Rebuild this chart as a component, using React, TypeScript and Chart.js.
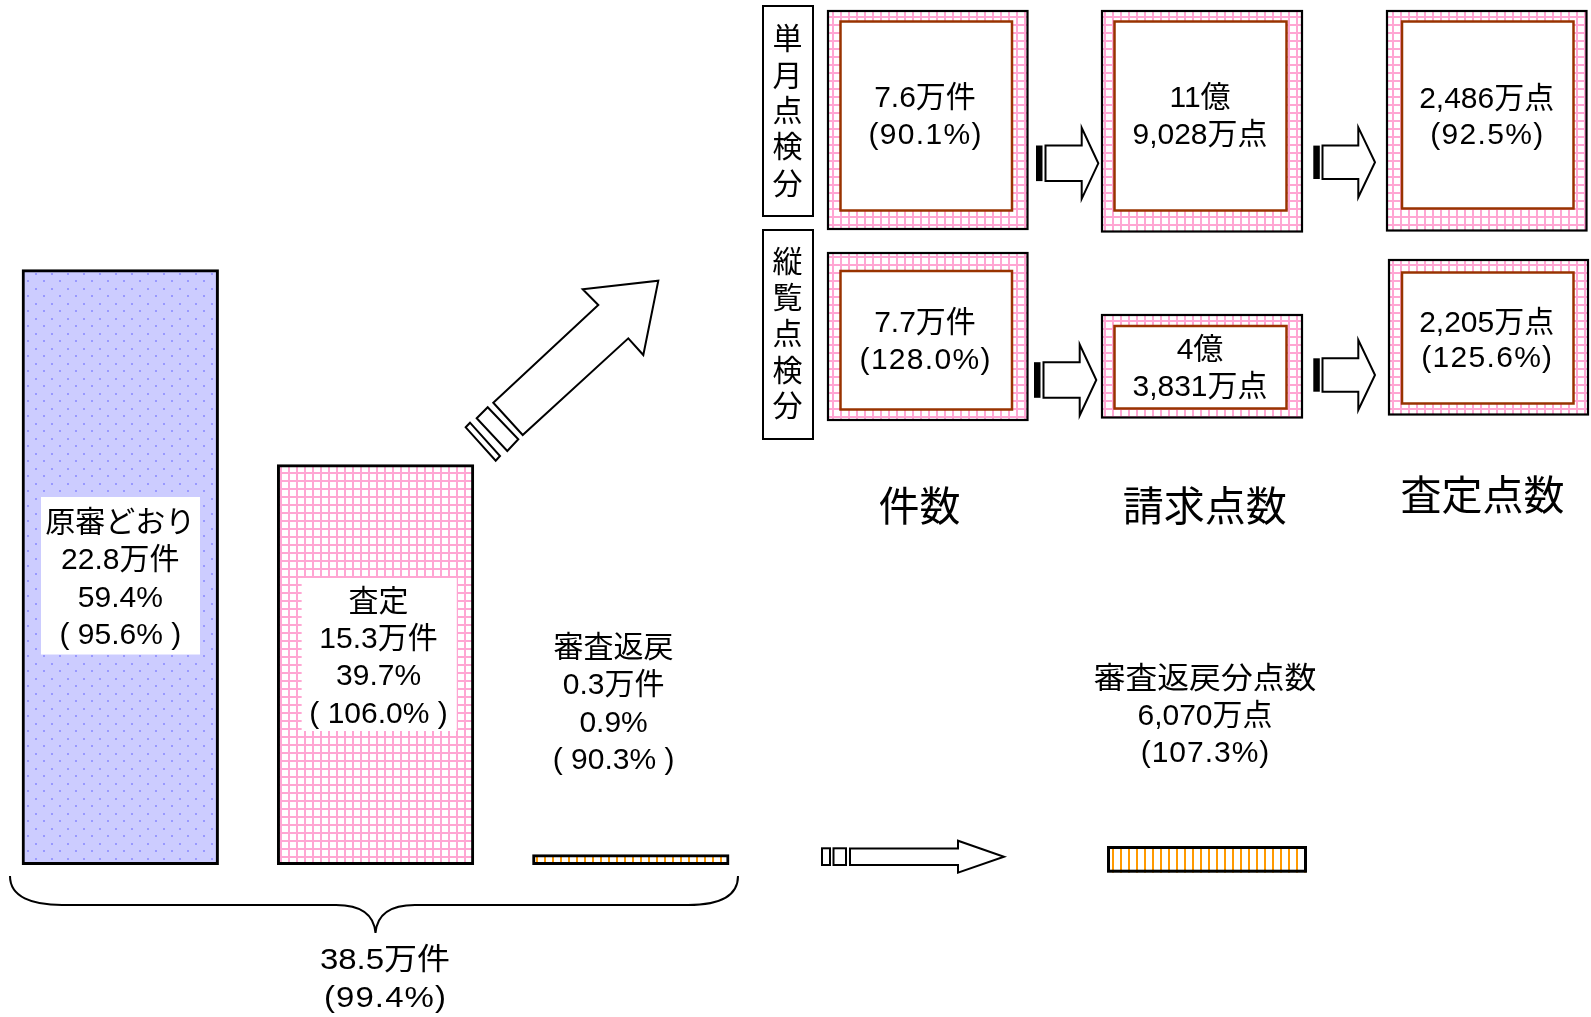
import React, { useEffect, useRef } from 'react';
import { Chart, registerables } from 'chart.js';

Chart.register(...registerables);

// ---- data ----
const categories = ['原審どおり', '査定', '審査返戻'];
const caseCounts = [22.8, 15.3, 0.3]; // 万件
const shareLabels = ['59.4%', '39.7%', '0.9%'];
const yoyLabels = ['95.6%', '106.0%', '90.3%'];
const totalLabels = ['38.5万件', '(99.4%)'];
const rowLabels = ['単月点検分', '縦覧点検分'];
const columnLabels = ['件数', '請求点数', '査定点数'];
const countCells = [['7.6万件', '(90.1%)'], ['7.7万件', '(128.0%)']];
const claimCells = [['11億', '9,028万点'], ['4億', '3,831万点']];
const assessedCells = [['2,486万点', '(92.5%)'], ['2,205万点', '(125.6%)']];
const returnedPointLabels = ['審査返戻分点数', '6,070万点', '(107.3%)'];

const FONT = '"Liberation Sans", "Noto Sans CJK JP", sans-serif';

function drawText(ctx: CanvasRenderingContext2D, s: string, x: number, y: number, size = 30, sx = 1, spacing = 0) {
  ctx.save();
  ctx.font = `${size}px ${FONT}`;
  ctx.fillStyle = '#000';
  ctx.textAlign = 'center';
  ctx.textBaseline = 'middle';
  if (spacing) (ctx as any).letterSpacing = `${spacing}px`;
  ctx.translate(x + spacing / 2, y + size * 0.08);
  ctx.scale(sx, 1);
  ctx.fillText(s, 0, 0);
  ctx.restore();
}

function blockArrow(ctx: CanvasRenderingContext2D, tailX: number, shaftX: number, headX: number, tipX: number, cy: number, sh: number, hh: number) {
  ctx.save();
  ctx.fillStyle = '#000';
  ctx.fillRect(tailX, cy - sh, 6.5, 2 * sh);
  ctx.beginPath();
  ctx.moveTo(shaftX, cy - sh);
  ctx.lineTo(headX, cy - sh);
  ctx.lineTo(headX, cy - hh);
  ctx.lineTo(tipX, cy);
  ctx.lineTo(headX, cy + hh);
  ctx.lineTo(headX, cy + sh);
  ctx.lineTo(shaftX, cy + sh);
  ctx.closePath();
  ctx.fillStyle = '#fff';
  ctx.fill();
  ctx.lineWidth = 2;
  ctx.strokeStyle = '#000';
  ctx.lineJoin = 'miter';
  ctx.stroke();
  ctx.restore();
}

function poly(ctx: CanvasRenderingContext2D, pts: number[][]) {
  ctx.beginPath();
  pts.forEach((p, i) => (i ? ctx.lineTo(p[0], p[1]) : ctx.moveTo(p[0], p[1])));
  ctx.closePath();
  ctx.fillStyle = '#fff';
  ctx.fill();
  ctx.lineWidth = 2;
  ctx.strokeStyle = '#000';
  ctx.stroke();
}

export default function App() {
  const ref = useRef<HTMLCanvasElement>(null);

  useEffect(() => {
    const canvas = ref.current!;
    const mainCtx = canvas.getContext('2d')!;
    const tile = (w: number, h: number, draw: (g: CanvasRenderingContext2D) => void) => {
      const c = document.createElement('canvas');
      c.width = w;
      c.height = h;
      const g = c.getContext('2d')!;
      draw(g);
      return mainCtx.createPattern(c, 'repeat')!;
    };
    const dots = tile(16, 15, (g) => {
      g.fillStyle = '#CCCCFF';
      g.fillRect(0, 0, 16, 15);
      g.fillStyle = '#9999FF';
      g.fillRect(3, 3, 2, 2);
      g.fillRect(11, 10, 2, 2);
    });
    const grid = tile(8, 8, (g) => {
      g.fillStyle = '#fff';
      g.fillRect(0, 0, 8, 8);
      g.fillStyle = '#FFA6D3';
      g.fillRect(0, 0, 8, 2);
      g.fillRect(0, 0, 2, 8);
    });
    const stripes = tile(8, 8, (g) => {
      g.fillStyle = '#fff';
      g.fillRect(0, 0, 8, 8);
      g.fillStyle = '#FF9900';
      g.fillRect(0, 0, 2, 8);
    });

    const barLabelLayout = [
      { dx: 0, box: [-79.3, 497, 79.7, 654.5], y0: 521.5 },
      { dx: 3, box: [-73.9, 578, 81.2, 731], y0: 600 },
      { dx: -17.2, box: null as number[] | null, y0: 646.5 },
    ];

    const cells = [
      { o: [828, 11, 1027.5, 229], i: [840.5, 21.5, 1012, 210.5], x: 925, ys: [96.7, 133.3], t: countCells[0] },
      { o: [1102, 11, 1302, 231.5], i: [1114.5, 21.5, 1286.5, 210.5], x: 1200, ys: [96.7, 133.3], t: claimCells[0] },
      { o: [1387, 11, 1586.5, 230.5], i: [1402, 21.5, 1573.5, 208.5], x: 1486.7, ys: [97, 133.3], t: assessedCells[0] },
      { o: [828, 253, 1027.5, 420], i: [840.5, 271, 1012, 409.5], x: 925, ys: [321.7, 358.3], t: countCells[1] },
      { o: [1102, 315, 1302, 417.5], i: [1114.5, 326, 1286.5, 408.5], x: 1200, ys: [348.3, 385], t: claimCells[1] },
      { o: [1389, 260, 1588, 414.5], i: [1402, 272.5, 1573.5, 403.5], x: 1486.7, ys: [321.7, 356.7], t: assessedCells[1] },
    ];

    const overlay = {
      id: 'overlay',
      afterDraw(chart: any) {
        const ctx: CanvasRenderingContext2D = chart.ctx;
        const bars = chart.getDatasetMeta(0).data;

        // labels on the bars
        bars.forEach((bar: any, i: number) => {
          const L = barLabelLayout[i];
          if (L.box) {
            ctx.fillStyle = '#fff';
            ctx.fillRect(bar.x + L.box[0], L.box[1], L.box[2] - L.box[0], L.box[3] - L.box[1]);
          }
          const lines = [categories[i], `${caseCounts[i]}万件`, shareLabels[i], `( ${yoyLabels[i]} )`];
          lines.forEach((s, k) => drawText(ctx, s, bar.x + L.dx, L.y0 + k * 37.3, 30));
        });

        // brace under bars
        ctx.save();
        ctx.beginPath();
        ctx.moveTo(10, 876);
        ctx.bezierCurveTo(10, 897, 32, 905, 62, 905);
        ctx.lineTo(336, 905);
        ctx.bezierCurveTo(362, 905, 374, 915, 375.5, 933);
        ctx.bezierCurveTo(377, 915, 389, 905, 415, 905);
        ctx.lineTo(688, 905);
        ctx.bezierCurveTo(718, 905, 738, 897, 738, 876);
        ctx.lineWidth = 2;
        ctx.strokeStyle = '#000';
        ctx.stroke();
        ctx.restore();
        drawText(ctx, totalLabels[0], 385, 958.3, 30, 1.1);
        drawText(ctx, totalLabels[1], 385, 996.7, 30, 1.1, 1);

        // big diagonal arrow
        ctx.save();
        ctx.lineJoin = 'miter';
        poly(ctx, [[493.3, 402.7], [598.3, 305], [582.7, 289.3], [658.3, 280.7], [643.3, 355], [628.3, 338.3], [522.7, 435]]);
        poly(ctx, [[476.7, 418.3], [487.7, 407.3], [518.3, 439.3], [507.3, 451]]);
        poly(ctx, [[465.7, 427.3], [470, 422.7], [500, 456], [495.7, 460.7]]);
        ctx.restore();

        // bottom arrow
        ctx.save();
        ctx.lineWidth = 2;
        ctx.strokeStyle = '#000';
        ctx.strokeRect(822, 848.3, 8, 16.7);
        ctx.strokeRect(833.5, 848.3, 12.5, 16.7);
        poly(ctx, [[850, 848.4], [958, 848.4], [958, 840.7], [1004, 856.7], [958, 872.7], [958, 865], [850, 865]]);
        ctx.restore();

        // returned points bar
        ctx.save();
        ctx.fillStyle = stripes;
        ctx.fillRect(1107, 846, 200, 26.7);
        ctx.lineWidth = 3;
        ctx.strokeStyle = '#000';
        ctx.strokeRect(1108.5, 847.5, 197, 23.7);
        ctx.restore();
        returnedPointLabels.forEach((s, k) => drawText(ctx, s, 1205, 677.5 + k * 36.8, 30, k === 0 ? 1.06 : 1, k === 2 ? 1 : 0));

        // row label boxes (vertical text)
        ctx.save();
        ctx.lineWidth = 2;
        ctx.strokeStyle = '#000';
        ctx.strokeRect(763, 6, 50, 210);
        ctx.strokeRect(763, 230, 50, 209);
        ctx.restore();
        const rowYs = [[38.3, 75, 110.5, 146.7, 183.3], [261.7, 297, 333.3, 370, 405]];
        rowLabels.forEach((lab, r) => {
          Array.from(lab).forEach((ch, k) => drawText(ctx, ch, 787.5, rowYs[r][k], 30));
        });

        // cells
        cells.forEach((c) => {
          const [x0, y0, x1, y1] = c.o;
          const [i0, j0, i1, j1] = c.i;
          ctx.save();
          ctx.fillStyle = grid;
          ctx.fillRect(x0, y0, x1 - x0, y1 - y0);
          ctx.fillStyle = '#fff';
          ctx.fillRect(i0, j0, i1 - i0, j1 - j0);
          ctx.lineWidth = 2.5;
          ctx.strokeStyle = '#993300';
          ctx.strokeRect(i0, j0, i1 - i0, j1 - j0);
          ctx.lineWidth = 2.2;
          ctx.strokeStyle = '#000';
          ctx.strokeRect(x0, y0, x1 - x0, y1 - y0);
          ctx.restore();
          c.t.forEach((s, k) => drawText(ctx, s, c.x, c.ys[k], 30, 1, s.startsWith('(') ? 1.3 : 0));
        });

        // small arrows
        blockArrow(ctx, 1036, 1045.5, 1081.7, 1098.3, 163.3, 17.8, 35.5);
        blockArrow(ctx, 1034, 1043.5, 1079.7, 1096.3, 380, 17.8, 35.5);
        blockArrow(ctx, 1313.3, 1322.5, 1358.3, 1375, 162.3, 16.7, 35);
        blockArrow(ctx, 1313.3, 1322.5, 1358.3, 1375, 375, 16.7, 35);

        // column headers
        const headX = [919.5, 1204.7, 1482.5];
        const headY = [506, 506, 495];
        columnLabels.forEach((s, k) => drawText(ctx, s, headX[k], headY[k], 41));
      },
    };

    const chart = new Chart(canvas, {
      type: 'bar',
      data: {
        labels: categories,
        datasets: [
          {
            data: caseCounts,
            backgroundColor: [dots, grid, stripes],
            borderColor: '#000',
            borderWidth: 3,
            borderSkipped: false,
            inflateAmount: 1.5,
            barPercentage: 0.761,
            categoryPercentage: 1,
            clip: false as any,
          } as any,
        ],
      },
      options: {
        animation: false,
        responsive: false,
        maintainAspectRatio: false,
        devicePixelRatio: 1,
        layout: { padding: { left: 120.3, right: 960.2, top: 5.5, bottom: 153.5 } },
        scales: {
          x: { type: 'category', offset: false, display: false, grid: { display: false } },
          y: { min: 0, max: 33, display: false, grid: { display: false } },
        },
        plugins: {
          legend: { display: false },
          tooltip: { enabled: false },
          title: { display: false },
        },
      },
      plugins: [overlay],
    });

    return () => chart.destroy();
  }, []);

  return (
    <div style={{ position: 'absolute', left: 0, top: 0, width: 1591, height: 1017, background: '#fff' }}>
      <canvas ref={ref} width={1591} height={1017} style={{ display: 'block' }} />
    </div>
  );
}
